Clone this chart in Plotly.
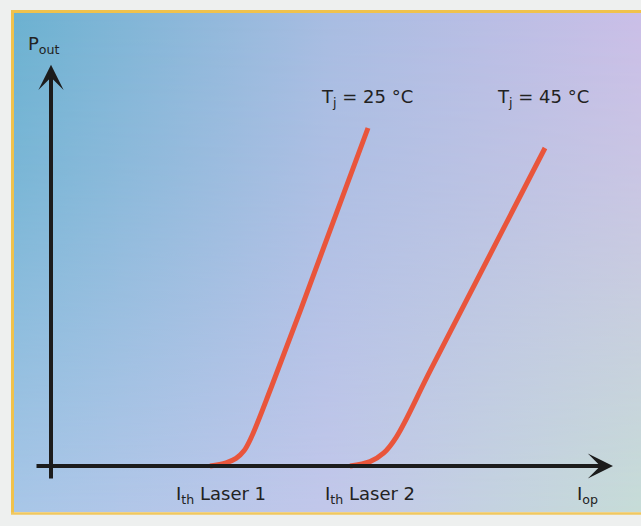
import plotly.graph_objects as go
import urllib.parse

# Data (arbitrary units: operating current I_op vs optical output P_out)
I_laser1 = [31.8, 35.0, 37.0, 38.6, 40.0, 44.0, 50.0, 63.4]
P_laser1 = [0.0, 0.8, 1.9, 3.8, 7.0, 19.5, 39.3, 84.5]
I_laser2 = [59.8, 63.8, 66.5, 69.1, 76.0, 98.8]
P_laser2 = [0.0, 1.1, 3.2, 7.3, 24.2, 79.5]
series_names = ["T<sub>j</sub> = 25 °C", "T<sub>j</sub> = 45 °C"]
x_labels = ["I<sub>th</sub> Laser 1", "I<sub>th</sub> Laser 2", "I<sub>op</sub>"]
y_label = "P<sub>out</sub>"

W, H = 641, 526
CURVE = "#e9553b"
INK = "#1c1c1c"
FONT = dict(family="DejaVu Sans, Noto Sans, sans-serif", size=18, color="#222222")

svg = """<svg xmlns='http://www.w3.org/2000/svg' viewBox='0 0 100 100' preserveAspectRatio='none'>
<defs>
<linearGradient id='t' x1='0' y1='0' x2='1' y2='0'>
<stop offset='0' stop-color='#6cb2d1'/><stop offset='0.5' stop-color='#a8bde2'/><stop offset='1' stop-color='#cbbfe8'/>
</linearGradient>
<linearGradient id='b' x1='0' y1='0' x2='1' y2='0'>
<stop offset='0' stop-color='#a8c6e7'/><stop offset='0.5' stop-color='#c2c7ea'/><stop offset='1' stop-color='#c6dcd7'/>
</linearGradient>
<linearGradient id='v' x1='0' y1='0' x2='0' y2='1'>
<stop offset='0' stop-color='black'/><stop offset='0.35' stop-color='#444'/><stop offset='1' stop-color='white'/>
</linearGradient>
<mask id='m'><rect width='100' height='100' fill='url(#v)'/></mask>
</defs>
<rect width='100' height='100' fill='url(#t)'/>
<rect width='100' height='100' fill='url(#b)' mask='url(#m)'/>
</svg>"""
bg_src = "data:image/svg+xml;charset=utf-8," + urllib.parse.quote(svg)

fig = go.Figure()
fig.add_trace(go.Scatter(x=I_laser1, y=P_laser1, mode="lines",
                         line=dict(color=CURVE, width=5, shape="spline", smoothing=1.0),
                         name=series_names[0], hoverinfo="skip"))
fig.add_trace(go.Scatter(x=I_laser2, y=P_laser2, mode="lines",
                         line=dict(color=CURVE, width=5, shape="spline", smoothing=1.0),
                         name=series_names[1], hoverinfo="skip"))

ann = []
# axes as arrows
ann.append(dict(x=112.4, y=0, ax=-3.2, ay=0, xref="x", yref="y", axref="x", ayref="y",
                showarrow=True, arrowhead=3, arrowwidth=4, arrowsize=1.05, arrowcolor=INK, text=""))
ann.append(dict(x=0, y=100.3, ax=0, ay=-3.5, xref="x", yref="y", axref="x", ayref="y",
                showarrow=True, arrowhead=3, arrowwidth=4, arrowsize=1.05, arrowcolor=INK, text=""))
# labels
ann.append(dict(x=-1.4, y=105.2, text=y_label, showarrow=False, font=FONT, xref="x", yref="y"))
ann.append(dict(x=63.2, y=92.0, text=series_names[0], showarrow=False, font=FONT, xref="x", yref="y"))
ann.append(dict(x=98.4, y=92.0, text=series_names[1], showarrow=False, font=FONT, xref="x", yref="y"))
ann.append(dict(x=34.0, y=-7.3, text=x_labels[0], showarrow=False, font=FONT, xref="x", yref="y"))
ann.append(dict(x=63.8, y=-7.3, text=x_labels[1], showarrow=False, font=FONT, xref="x", yref="y"))
ann.append(dict(x=107.2, y=-7.3, text=x_labels[2], showarrow=False, font=FONT, xref="x", yref="y"))

left, top, bottom = 14 / W, 1 - 13 / H, 1 - 512 / H
fig.update_layout(
    width=W, height=H, margin=dict(l=0, r=0, t=0, b=0),
    paper_bgcolor="#eef0ef", plot_bgcolor="rgba(0,0,0,0)",
    showlegend=False,
    xaxis=dict(range=[-10.2, 118], visible=False, fixedrange=True),
    yaxis=dict(range=[-15, 116.5], visible=False, fixedrange=True),
    images=[dict(source=bg_src, xref="paper", yref="paper", x=left, y=top,
                 sizex=1 - left, sizey=top - bottom, sizing="stretch", layer="below")],
    shapes=[
        dict(type="line", xref="paper", yref="paper", x0=12.5 / W, x1=12.5 / W, y0=1 - 11 / H, y1=1 - 513.5 / H,
             line=dict(color="#f0c24c", width=3)),
        dict(type="line", xref="paper", yref="paper", x0=11 / W, x1=1, y0=1 - 11.5 / H, y1=1 - 11.5 / H,
             line=dict(color="#f0c24c", width=3)),
        dict(type="line", xref="paper", yref="paper", x0=11 / W, x1=1, y0=1 - 513.5 / H, y1=1 - 513.5 / H,
             line=dict(color="#f0c860", width=2.5)),
    ],
    annotations=ann,
)
fig.write_html("out.html", config={"displayModeBar": False},
               post_script="document.body.style.margin='0';document.body.style.overflow='hidden';")
